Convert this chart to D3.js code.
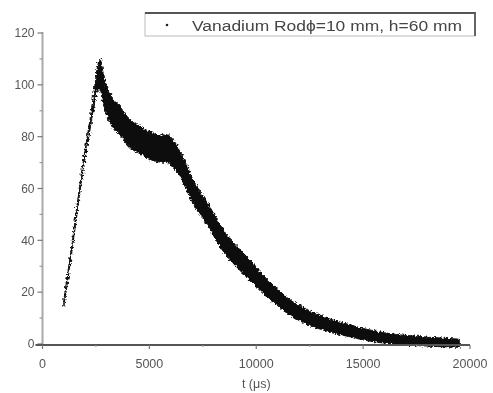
<!DOCTYPE html>
<html><head><meta charset="utf-8">
<script src="https://cdn.jsdelivr.net/npm/d3@7"></script>
<style>html,body{margin:0;padding:0;background:#fff;}svg{display:block;}</style>
</head><body>
<svg id="chart" width="493" height="393"></svg>
<script>
// Data
const timeUs = [1000,1200,1400,1600,1800,2000,2200,2400,2600,2700,2800,3000,3200,3400,3600,3800,4000,4300,4600,4900,5200,5500,5800,6100,6400,6700,7000,7400,7800,8200,8600,9000,9400,9800,10200,10600,11000,11500,12000,12500,13000,13500,14000,14500,15000,15500,16000,16500,17000,17500,18000,18500,19000,19500];
const counts = [16,27,38.5,51,63,73.5,83.5,94,103,104,100,94,90.5,88,86.5,84,82,80,78.5,77,76,75.2,75.5,73.5,70,65,59.5,54,49,43.3,38.2,34.5,31,27.8,24,20.8,18,14.5,12,10,8.4,7,5.9,4.8,3.8,3,2.3,1.9,1.5,1.2,0.9,0.7,0.5,0.3];
const spread = [1.5,1.5,1.5,1.5,1.6,1.7,2,2.8,5,6,6,5.5,5.6,5.4,5.6,5.4,5.4,5.5,5.2,5.4,5.2,5,5.4,5.4,5,4.8,4.6,4.4,4.3,4.3,4.1,4,4,3.8,3.6,3.4,3.2,3,2.9,2.8,2.7,2.5,2.4,2.3,2.2,2.1,2,1.9,1.8,1.8,1.7,1.7,1.6,1.6];
const xTicks = [0,5000,10000,15000,20000];
const xMinor = [2500,7500,12500,17500];
const yTicks = [0,20,40,60,80,100,120];
const yMinor = [10,30,50,70,90,110];
const legendLabel = "Vanadium Rodϕ=10 mm, h=60 mm";
const xTitle = "t (μs)";

const svg = d3.select("#chart");
const x = d3.scaleLinear().domain([0,20000]).range([42.5,470]);
const y = d3.scaleLinear().domain([0,120]).range([344,33]);
const font = "'Liberation Sans', Arial, sans-serif";

const defs = svg.append("defs");
const f = defs.append("filter").attr("id","noisy")
  .attr("x","-5%").attr("y","-5%").attr("width","110%").attr("height","110%");
f.append("feTurbulence").attr("type","fractalNoise").attr("baseFrequency","0.45")
  .attr("numOctaves",2).attr("seed",3).attr("result","n");
f.append("feDisplacementMap").attr("in","SourceGraphic").attr("in2","n")
  .attr("scale",5).attr("xChannelSelector","R").attr("yChannelSelector","G").attr("result","d");
f.append("feGaussianBlur").attr("in","d").attr("stdDeviation",0.5);
const soft = defs.append("filter").attr("id","soft");
soft.append("feGaussianBlur").attr("stdDeviation",0.35);

const data = timeUs.map((t,i)=>({t, v:counts[i], s:spread[i]}));

// band of points
const area = d3.area()
  .x(d=>x(d.t))
  .y0(d=>y(d.v - d.s))
  .y1(d=>y(d.v + d.s))
  .curve(d3.curveMonotoneX);
svg.append("path").datum(data).attr("d",area).attr("fill","#111")
  .attr("stroke","#111").attr("stroke-width",1).attr("stroke-linejoin","round")
  .attr("filter","url(#noisy)");

const g = svg.append("g").attr("filter","url(#soft)");
// y axis
const gy = g.append("g");
gy.append("line").attr("x1",x(0)).attr("x2",x(0)).attr("y1",y(120)-1).attr("y2",y(0))
  .attr("stroke","#aaa").attr("stroke-width",2);
gy.selectAll(".yt").data(yTicks).join("line")
  .attr("x1",x(0)-5).attr("x2",x(0)).attr("y1",d=>y(d)).attr("y2",d=>y(d))
  .attr("stroke","#777").attr("stroke-width",1.2);
gy.selectAll(".ym").data(yMinor).join("line")
  .attr("x1",x(0)-3).attr("x2",x(0)).attr("y1",d=>y(d)).attr("y2",d=>y(d))
  .attr("stroke","#999").attr("stroke-width",1.2);
gy.selectAll("text").data(yTicks).join("text")
  .attr("x",x(0)-8).attr("y",d=>y(d)).attr("dy","0.36em")
  .attr("text-anchor","end").attr("font-family",font).attr("font-size",12)
  .attr("fill","#555").text(d=>d);

// x axis
const gx = g.append("g");
gx.append("line").attr("x1",x(0)-7).attr("x2",x(20000)).attr("y1",y(0)+1).attr("y2",y(0)+1)
  .attr("stroke","#555").attr("stroke-width",1.8);
gx.selectAll(".xt").data(xTicks).join("line")
  .attr("x1",d=>x(d)).attr("x2",d=>x(d)).attr("y1",y(0)+1).attr("y2",y(0)+5)
  .attr("stroke","#777").attr("stroke-width",1.2);
gx.selectAll(".xm").data(xMinor).join("line")
  .attr("x1",d=>x(d)).attr("x2",d=>x(d)).attr("y1",y(0)+1).attr("y2",y(0)+3)
  .attr("stroke","#999").attr("stroke-width",1.2);
gx.selectAll("text").data(xTicks).join("text")
  .attr("x",d=>x(d)).attr("y",363).attr("dy","0.36em")
  .attr("text-anchor","middle").attr("font-family",font).attr("font-size",12.5)
  .attr("fill","#555").text(d=>d);
g.append("text").attr("x",x(10000)).attr("y",388)
  .attr("text-anchor","middle").attr("font-family",font).attr("font-size",12.5)
  .attr("fill","#555").text(xTitle);

// legend
const lg = g.append("g");
lg.append("rect").attr("x",145).attr("y",13).attr("width",330).attr("height",23)
  .attr("fill","#fff").attr("stroke","#bbb").attr("stroke-width",1);
lg.append("line").attr("x1",145).attr("x2",476).attr("y1",13).attr("y2",13)
  .attr("stroke","#555").attr("stroke-width",2);
lg.append("line").attr("x1",475).attr("x2",475).attr("y1",13).attr("y2",36)
  .attr("stroke","#666").attr("stroke-width",2);
lg.append("circle").attr("cx",167).attr("cy",25).attr("r",1.3).attr("fill","#222");
lg.append("text").attr("x",192).attr("y",25).attr("dy","0.36em")
  .attr("font-family",font).attr("font-size",15.5).attr("fill","#444")
  .attr("textLength",270).attr("lengthAdjust","spacingAndGlyphs")
  .text(legendLabel);
</script>
</body></html>
